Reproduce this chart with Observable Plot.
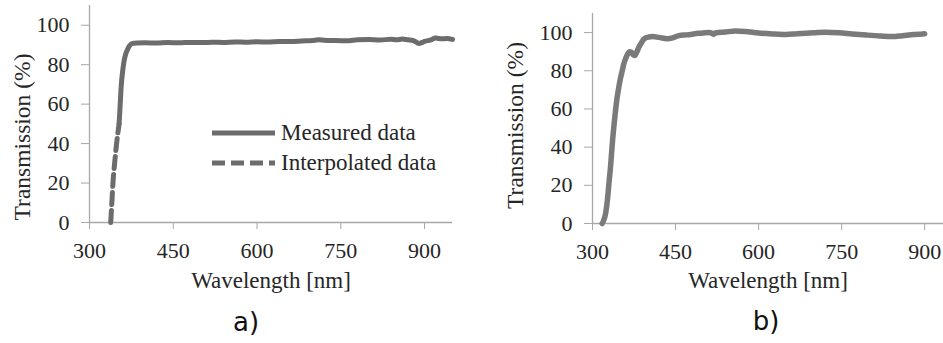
<!DOCTYPE html>
<html>
<head>
<meta charset="utf-8">
<script src="https://cdn.jsdelivr.net/npm/d3@7"></script>
<script src="https://cdn.jsdelivr.net/npm/@observablehq/plot@0.6"></script>
<style>
  html, body { margin: 0; padding: 0; background: #fff; overflow: hidden; }
  #wrap { position: relative; width: 943px; height: 343px; }
  .panel { position: absolute; top: 0; }
  .panel svg, .panel svg text { font-family: "Liberation Serif", "DejaVu Serif", "Times New Roman", Times, serif !important; }
  .plabel { position: absolute; font-family: "DejaVu Sans", sans-serif; font-size: 26px; color: #111; transform: translate(-50%, -50%); }
  #legend { position: absolute; left: 212px; top: 118px; font-family: "Liberation Serif", "DejaVu Serif", "Times New Roman", Times, serif; font-size: 23px; color: #262626; }
  #legend .row { display: flex; align-items: center; height: 30px; }
  #legend svg { margin-right: 3px; }
</style>
</head>
<body>
<div id="wrap">
  <div class="panel" id="pa" style="left:0px"></div>
  <div class="panel" id="pb" style="left:470px"></div>
  <div id="legend"></div>
  <div class="plabel" style="left:246px; top:322px">a)</div>
  <div class="plabel" style="left:766px; top:321px">b)</div>
</div>
<script>
// ---- Data ----
const xTicks = [300, 450, 600, 750, 900];
const yTicks = [0, 20, 40, 60, 80, 100];

// Panel a: interpolated segment
const aInterpWl = [338, 340, 342, 345, 348.5, 353];
const aInterpT  = [0, 10, 20, 30, 40, 50];

// Panel a: measured data
const aMeasWl = [353, 355, 357, 359.5, 362, 365, 368, 372, 377, 385, 400, 420, 440, 460, 480, 500, 520, 540, 560, 580, 600, 620, 640, 660, 680, 700, 710, 720, 740, 760, 780, 800, 820, 840, 850, 860, 870, 880, 890, 895, 900, 910, 920, 930, 940, 950];
const aMeasT  = [50, 60, 70, 77, 82, 85.5, 87.7, 89.7, 90.8, 91.0, 91.1, 91.0, 91.2, 91.1, 91.3, 91.2, 91.4, 91.3, 91.5, 91.4, 91.6, 91.5, 91.8, 91.7, 92.0, 92.3, 92.6, 92.4, 92.2, 92.1, 92.6, 92.8, 92.5, 92.9, 92.6, 93.0, 92.6, 92.2, 90.8, 91.2, 91.8, 92.5, 93.5, 93.1, 93.3, 92.8];

// Panel b: measured data
const bWl = [317.5, 320, 323.5, 326, 328, 330, 332.5, 334.5, 336.7, 339, 341.5, 344.5, 347.5, 350.5, 353.7, 356.5, 359.6, 363, 366.9, 370, 373, 376.5, 380, 383.7, 388, 392, 396, 402, 408, 420, 435, 445, 456, 470, 492, 510, 516, 518.6, 522, 540, 558, 575, 600, 625, 649, 670, 700, 721, 745, 769, 795, 820, 841.5, 860, 880, 896, 900];
const bT  = [0, 1.5, 5, 10, 15.5, 22, 29.5, 37, 45, 52, 59, 66, 71.4, 76, 80, 83.5, 86.2, 88.5, 90, 89.8, 88.5, 88, 89.8, 92.3, 94.5, 96.3, 97.2, 97.7, 97.9, 97.5, 96.8, 97.2, 98.4, 98.8, 99.6, 100, 99.6, 99.1, 99.8, 100.3, 100.8, 100.6, 99.8, 99.3, 99.0, 99.4, 99.9, 100.2, 99.9, 99.3, 98.7, 98.2, 97.9, 98.4, 99.0, 99.3, 99.4];

const xTitle = "Wavelength [nm]";
const yTitle = "Transmission (%)";
const legendLabels = ["Measured data", "Interpolated data"];

const zip = (xs, ys) => xs.map((x, i) => ({wl: x, t: ys[i]}));
const aInterp = zip(aInterpWl, aInterpT);
const aMeas = zip(aMeasWl, aMeasT);
const bData = zip(bWl, bT);

const axisGray = "#a8a8a8";
const textCol = "#262626";
const serif = "Liberation Serif, DejaVu Serif, Times New Roman, serif";

function makePlot({width, marginLeft, marginRight, marginTop, marginBottom, xDomain, lines, titleDx, titleDy, xTitleDy}) {
  return Plot.plot({
    width, height: 300, marginLeft, marginRight, marginTop, marginBottom,
    style: {fontFamily: serif, fontSize: "22px", color: textCol, background: "white", overflow: "visible"},
    x: {domain: xDomain, label: null},
    y: {domain: [0, 110], label: null},
    marks: [
      Plot.ruleX([300], {stroke: axisGray, strokeWidth: 1.3}),
      Plot.ruleY([0], {stroke: axisGray, strokeWidth: 1.3}),
      Plot.axisX({ticks: xTicks, tickSize: 7, tickPadding: 13, stroke: axisGray, fill: textCol, fontSize: 22, fontFamily: serif, tickFormat: d => String(d)}),
      Plot.axisY({ticks: yTicks, tickSize: 8, tickPadding: 12, stroke: axisGray, fill: textCol, fontSize: 22, fontFamily: serif, tickFormat: d => String(d)}),
      ...lines,
      Plot.text([xTitle], {frameAnchor: "bottom", dy: xTitleDy, textAnchor: "middle", lineAnchor: "middle", fontSize: 23, fontFamily: serif, fill: textCol}),
      Plot.text([yTitle], {frameAnchor: "left", dx: titleDx, dy: titleDy, rotate: -90, textAnchor: "middle", lineAnchor: "middle", fontSize: 23.5, fontFamily: serif, fill: textCol})
    ]
  });
}

const colA = "#6c6c6c";
const colB = "#7a7a7a";

const plotA = makePlot({
  width: 470, marginLeft: 89, marginRight: 18, marginTop: 5, marginBottom: 78,
  xDomain: [300, 950], titleDx: -67, titleDy: 23, xTitleDy: 58,
  lines: [
    Plot.line(aInterp, {x: "wl", y: "t", stroke: colA, strokeWidth: 5, strokeDasharray: "12,6", curve: "monotone-x"}),
    Plot.line(aMeas, {x: "wl", y: "t", stroke: colA, strokeWidth: 5, curve: "monotone-x", strokeLinejoin: "round"})
  ]
});
document.getElementById("pa").appendChild(plotA);

const plotB = makePlot({
  width: 473, marginLeft: 122, marginRight: 0, marginTop: 13, marginBottom: 77,
  xDomain: [300, 934], titleDx: -77, titleDy: 7, xTitleDy: 57,
  lines: [
    Plot.line(bData, {x: "wl", y: "t", stroke: colB, strokeWidth: 5.5, curve: "monotone-x", strokeLinejoin: "round"})
  ]
});
document.getElementById("pb").appendChild(plotB);

// Legend (panel a)
const legend = document.getElementById("legend");
const dashes = ["", "13,6"];
legendLabels.forEach((lab, i) => {
  const row = document.createElement("div");
  row.className = "row";
  const sw = d3.create("svg").attr("width", 66).attr("height", 10);
  sw.append("line").attr("x1", 0).attr("x2", 63).attr("y1", 5).attr("y2", 5)
    .attr("stroke", colA).attr("stroke-width", 5)
    .attr("stroke-dasharray", dashes[i] || null);
  row.appendChild(sw.node());
  const sp = document.createElement("span");
  sp.textContent = lab;
  row.appendChild(sp);
  legend.appendChild(row);
});
</script>
</body>
</html>
